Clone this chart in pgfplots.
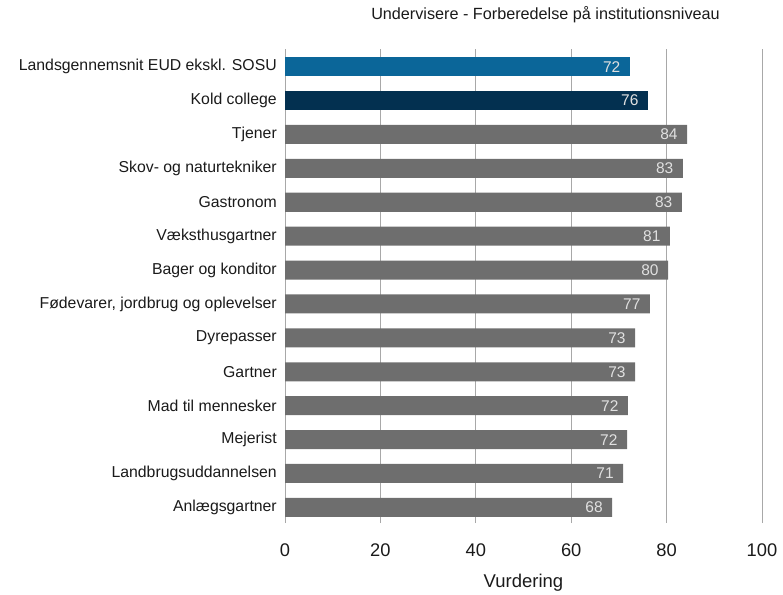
\documentclass[border=0pt]{standalone}
\usepackage{fontspec}
\setmainfont{Liberation Sans}
\usepackage{pgfplots}
\pgfplotsset{compat=1.18}
\definecolor{cblue}{HTML}{0B6699}
\definecolor{cnavy}{HTML}{033050}
\definecolor{cgray}{HTML}{6E6E6E}
\definecolor{cgrid}{HTML}{A8A8A8}
\definecolor{ctext}{HTML}{1A1A1A}
\begin{document}
\begin{tikzpicture}
\useasboundingbox (0,0) rectangle (783pt,594pt);
\begin{axis}[
  at={(285pt,71pt)}, anchor=south west,
  scale only axis, width=477pt, height=474pt,
  xmin=0, xmax=100, ymin=-0.46, ymax=13.52,
  xbar, bar width=19pt,
  axis line style={draw=none},
  xtick={0,20,...,100}, ytick={0,...,13},
  yticklabels={Anlægsgartner,Landbrugsuddannelsen,Mejerist,Mad til mennesker,Gartner,Dyrepasser,{Fødevarer, jordbrug og oplevelser},Bager og konditor,Væksthusgartner,Gastronom,Skov- og naturtekniker,Tjener,Kold college,Landsgennemsnit EUD ekskl. SOSU},
  major tick length=0pt,
  xmajorgrids, grid style={cgrid, line width=1pt},
  /pgf/number format/assume math mode=true,
  ticklabel style={text=ctext},
  xticklabel style={font=\fontsize{18.3}{20}\selectfont, yshift=-17pt},
  yticklabel style={font=\fontsize{15.8}{18}\selectfont, xshift=-4.7pt},
  xlabel={Vurdering},
  xlabel style={font=\fontsize{18.5}{20}\selectfont, text=ctext, at={(axis description cs:0.5,0)}, anchor=center, yshift=-59.7pt},
  point meta=explicit,
  nodes near coords,
  nodes near coords style={anchor=east, xshift=-6pt, font=\fontsize{15.5}{17}\selectfont, text=white!88!black},
]
\addplot[fill=cgray, draw=none, bar shift=0pt] coordinates {
 (68.6,0) [68]
 (70.9,1) [71]
 (71.7,2) [72]
 (71.9,3) [72]
 (73.4,4) [73]
 (73.4,5) [73]
 (76.5,6) [77]
 (80.3,7) [80]
 (80.7,8) [81]
 (83.2,9) [83]
 (83.4,10) [83]
 (84.3,11) [84]
};
\addplot[fill=cnavy, draw=none, bar shift=0pt] coordinates {(76.1,12) [76]};
\addplot[fill=cblue, draw=none, bar shift=0pt] coordinates {(72.3,13) [72]};
\end{axis}
\node[anchor=base, font=\fontsize{16.2}{19}\selectfont, text=ctext] at (545.5pt,574.7pt) {Undervisere - Forberedelse på institutionsniveau};
\end{tikzpicture}
\end{document}
